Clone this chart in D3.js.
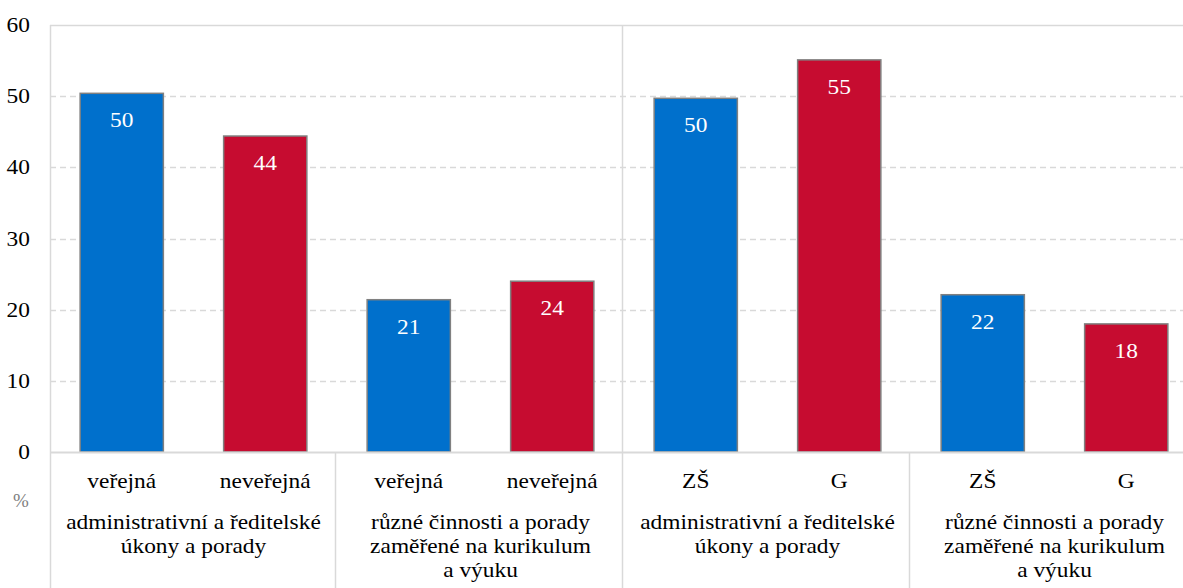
<!DOCTYPE html>
<html>
<head>
<meta charset="utf-8">
<script src="https://cdn.jsdelivr.net/npm/d3@7"></script>
<style>
  body { margin: 0; background: #fff; }
  svg text { font-family: 'Liberation Serif', 'DejaVu Serif', serif; }
</style>
</head>
<body>
<div class="chart"></div>
<script>
// data
var categories = ['veřejná', 'neveřejná', 'veřejná', 'neveřejná', 'ZŠ', 'G', 'ZŠ', 'G'];
var values = [50.4, 44.4, 21.4, 24.0, 49.7, 55.1, 22.1, 18.0];
var seriesIdx = [0, 1, 0, 1, 0, 1, 0, 1];
var groups = [
  ['administrativní a ředitelské', 'úkony a porady'],
  ['různé činnosti a porady', 'zaměřené na kurikulum', 'a výuku'],
  ['administrativní a ředitelské', 'úkony a porady'],
  ['různé činnosti a porady', 'zaměřené na kurikulum', 'a výuku']
];
var yTicks = [0, 10, 20, 30, 40, 50, 60];
var colors = ['#0070CC', '#C60C30'];

var fullWidth = 1183, fullHeight = 588;
var plotLeft = 50, plotRight = 1198, plotTop = 25, plotBottom = 452;
// the reference text is a bit wider than the font, stretch it
var stretch = 1.17;

var svg = d3.select('.chart')
  .append('svg')
  .attr('width', fullWidth)
  .attr('height', fullHeight);

var xScale = d3.scaleBand()
  .domain(d3.range(categories.length))
  .range([plotLeft, plotRight])
  .paddingInner(0.42)
  .paddingOuter(0.21);

var yScale = d3.scaleLinear()
  .domain([0, 60])
  .range([plotBottom, plotTop]);

function at(x, y) {
  return `translate(${x},${y}) scale(${stretch},1)`;
}

// gridlines
svg.selectAll('.grid')
  .data(yTicks.filter(d => d > 0))
  .enter()
  .append('line')
  .attr('x1', plotLeft)
  .attr('x2', fullWidth)
  .attr('y1', d => Math.round(yScale(d)) + 0.5)
  .attr('y2', d => Math.round(yScale(d)) + 0.5)
  .style('stroke', '#d9d9d9')
  .style('stroke-width', 1.5)
  .style('stroke-dasharray', d => d === 60 ? null : '6,4');

// y tick labels
svg.selectAll('.ytick')
  .data(yTicks)
  .enter()
  .append('text')
  .attr('transform', d => at(30, yScale(d) + 7))
  .style('text-anchor', 'end')
  .style('font-size', '20px')
  .style('fill', '#000')
  .text(d => d);

// vertical axis + separators
var step = xScale.step();
svg.append('line')
  .attr('x1', plotLeft + 0.5).attr('x2', plotLeft + 0.5)
  .attr('y1', plotTop).attr('y2', fullHeight)
  .style('stroke', '#d9d9d9').style('stroke-width', 1.5);

[2, 4, 6].forEach(i => {
  var x = Math.round(plotLeft + i * step) - 1.5;
  svg.append('line')
    .attr('x1', x).attr('x2', x)
    .attr('y1', i === 4 ? plotTop : plotBottom).attr('y2', fullHeight)
    .style('stroke', '#d9d9d9').style('stroke-width', 1.5);
});

// bars
svg.selectAll('.bar')
  .data(values)
  .enter()
  .append('rect')
  .attr('class', 'bar')
  .attr('x', (d, i) => xScale(i))
  .attr('y', d => yScale(d))
  .attr('width', xScale.bandwidth())
  .attr('height', d => plotBottom - yScale(d))
  .style('fill', (d, i) => colors[seriesIdx[i]])
  .style('stroke', '#808080')
  .style('stroke-width', 1.5);

// x axis line
svg.append('line')
  .attr('x1', plotLeft).attr('x2', fullWidth)
  .attr('y1', plotBottom + 0.5).attr('y2', plotBottom + 0.5)
  .style('stroke', '#d9d9d9').style('stroke-width', 2);

// value labels
svg.selectAll('.val')
  .data(values)
  .enter()
  .append('text')
  .attr('transform', (d, i) => at(xScale(i) + xScale.bandwidth() / 2, yScale(d) + 34))
  .style('text-anchor', 'middle')
  .style('font-size', '20px')
  .style('fill', '#fff')
  .text(d => d3.format('.0f')(d));

// category labels
svg.selectAll('.cat')
  .data(categories)
  .enter()
  .append('text')
  .attr('transform', (d, i) => at(xScale(i) + xScale.bandwidth() / 2, 488))
  .style('text-anchor', 'middle')
  .style('font-size', '20px')
  .style('fill', '#000')
  .text(d => d);

// group labels
groups.forEach((lines, g) => {
  var cx = plotLeft + (g * 2 + 1) * step;
  svg.append('text')
    .attr('transform', at(cx, 529))
    .style('text-anchor', 'middle')
    .style('font-size', '20px')
    .style('fill', '#000')
    .selectAll('tspan')
    .data(lines)
    .enter()
    .append('tspan')
    .attr('x', 0)
    .attr('dy', (d, i) => i === 0 ? 0 : 24)
    .text(d => d);
});

// unit label
svg.append('text')
  .attr('x', 21)
  .attr('y', 507)
  .style('text-anchor', 'middle')
  .style('font-size', '19px')
  .style('fill', '#808080')
  .text('%');
</script>
</body>
</html>
